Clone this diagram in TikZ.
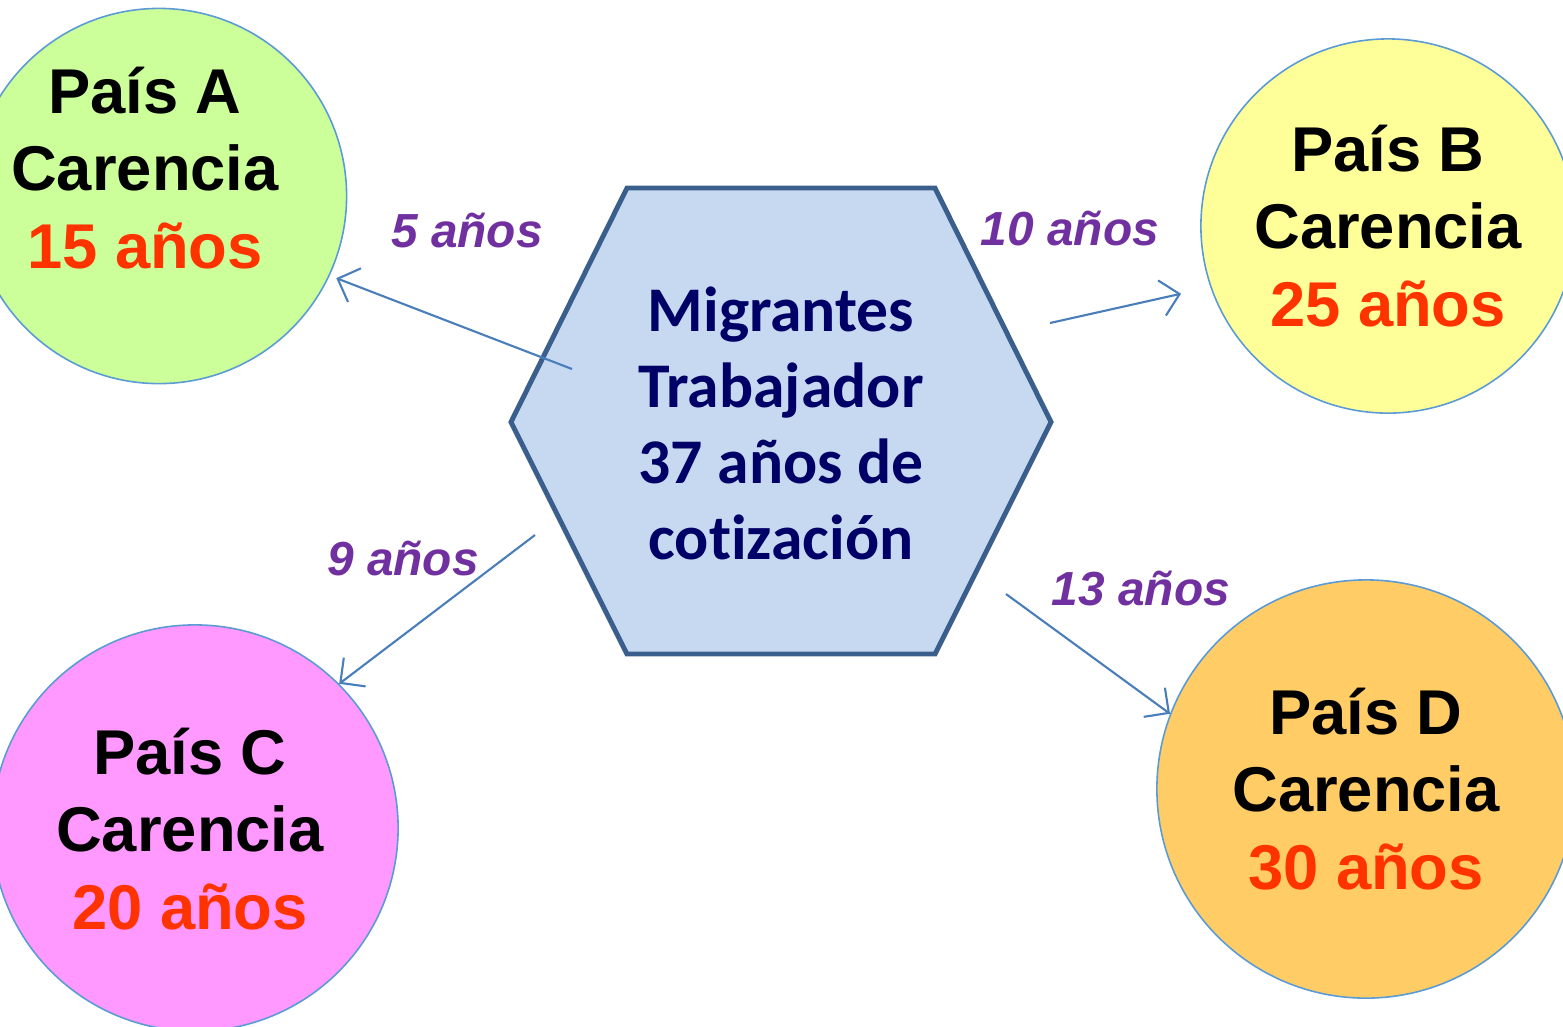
\documentclass[tikz,border=0pt]{standalone}
\usepackage{fontspec}
\setmainfont{Liberation Sans}
\newfontfamily\calibri[Ligatures={NoCommon}]{Carlito}
\usetikzlibrary{arrows.meta}
\definecolor{verdeA}{HTML}{CCFF99}
\definecolor{amarilloB}{HTML}{FFFF99}
\definecolor{rosaC}{HTML}{FF99FF}
\definecolor{naranjaD}{HTML}{FFCC66}
\definecolor{rojo}{HTML}{FF3300}
\definecolor{morado}{HTML}{7030A0}
\definecolor{marino}{HTML}{000066}
\definecolor{hexfondo}{HTML}{C6D9F1}
\definecolor{hexborde}{HTML}{3A5F8C}
\definecolor{azulflecha}{HTML}{4A7EBB}
\definecolor{borde}{HTML}{5B9BD5}
\begin{document}
\begin{tikzpicture}[x=0.01cm, y=-0.01cm, every node/.style={font=\bfseries}]
  \tikzstyle{pais}=[draw=borde,circle,line width=0.45pt,inner sep=0pt]
  \tikzstyle{paistxt}=[align=center,font=\fontsize{18}{22}\selectfont\bfseries]
  \tikzstyle{anos}=[anchor=base,text=morado,font=\fontsize{13.6}{16}\selectfont\bfseries\itshape]
  \tikzstyle{flecha}=[->,draw=azulflecha,line width=0.6pt,>={Straight Barb[length=1.8mm,width=3.6mm]}]
  \clip (0,0) rectangle (1563,1026);
  \node[pais,fill=verdeA,minimum size=3.75cm] (a) at (159,196) {};
  \node[pais,fill=amarilloB,minimum size=3.74cm] (b) at (1388,226) {};
  \node[pais,fill=rosaC,minimum size=4.06cm] (c) at (195,828) {};
  \node[pais,fill=naranjaD,minimum size=4.18cm] (d) at (1366,789) {};
  \node[paistxt] (ta) at (145,168) {País A\\Carencia\\\textcolor{rojo}{15 años}};
  \node[paistxt] (tb) at (b) {País B\\Carencia\\\textcolor{rojo}{25 años}};
  \node[paistxt] (tc) at (190,829) {País C\\Carencia\\\textcolor{rojo}{20 años}};
  \node[paistxt] (td) at (d) {País D\\Carencia\\\textcolor{rojo}{30 años}};
  \draw[line width=1.4pt,draw=hexborde,fill=hexfondo] (627,188) -- (935,188) -- (1051,422) -- (935,654) -- (627,654) -- (511,422) -- cycle;
  \node[align=center,text=marino,font=\calibri\fontsize{18.1}{21.6}\selectfont\bfseries] (mig) at (781,423) {Migrantes\\Trabajador\\37 años de\\cotización};
  \coordinate (sa) at (572,369); \coordinate (sb) at (1050,323);
  \coordinate (sc) at (535,535); \coordinate (sd) at (1006,594);
  \draw[flecha,shorten >=0.07cm] (sa) -- (a.-25);
  \draw[flecha,shorten >=0.3cm] (sb) -- (b.199);
  \draw[flecha] (sc) -- (c.45);
  \draw[flecha] (sd) -- (d.159);
  \node[anos] (na) at (467,247) {5 años};
  \node[anos] (nb) at (1070,245) {10 años};
  \node[anos] (nc) at (403,575) {9 años};
  \node[anos] (nd) at (1141,605) {13 años};
\end{tikzpicture}
\end{document}
